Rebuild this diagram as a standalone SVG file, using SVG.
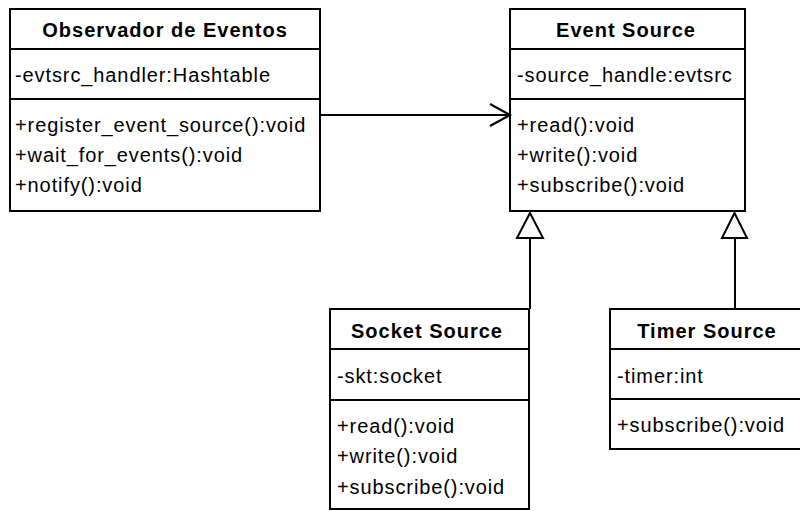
<svg xmlns="http://www.w3.org/2000/svg" width="800" height="511" viewBox="0 0 800 511">
  <style>
    .box { fill: #ffffff; stroke: #000000; stroke-width: 2; }
    .sep { stroke: #000000; stroke-width: 2; }
    .edge { fill: none; stroke: #000000; stroke-width: 2; }
    .head { fill: #ffffff; stroke: #000000; stroke-width: 2; stroke-linejoin: miter; }
    .title { font-family: "Liberation Sans", Arial, sans-serif; font-size: 20px; font-weight: bold; letter-spacing: 1px; text-anchor: middle; fill: #000000; }
    .member { font-family: "Liberation Sans", Arial, sans-serif; font-size: 20px; letter-spacing: 0.9px; fill: #000000; }
  </style>

  <!-- Class: Observador de Eventos -->
  <g id="observador-de-eventos">
    <rect class="box" x="10" y="9" width="310" height="202"/>
    <line class="sep" x1="10" y1="49" x2="320" y2="49"/>
    <line class="sep" x1="10" y1="99" x2="320" y2="99"/>
    <text class="title" x="165" y="37">Observador de Eventos</text>
    <text class="member" x="15" y="82">-evtsrc_handler:Hashtable</text>
    <text class="member" x="15" y="132">+register_event_source():void</text>
    <text class="member" x="15" y="162">+wait_for_events():void</text>
    <text class="member" x="15" y="192">+notify():void</text>
  </g>

  <!-- Class: Event Source -->
  <g id="event-source">
    <rect class="box" x="510" y="9" width="235" height="202"/>
    <line class="sep" x1="510" y1="49" x2="745" y2="49"/>
    <line class="sep" x1="510" y1="99" x2="745" y2="99"/>
    <text class="title" x="626" y="37">Event Source</text>
    <text class="member" x="517" y="82">-source_handle:evtsrc</text>
    <text class="member" x="517" y="132">+read():void</text>
    <text class="member" x="517" y="162">+write():void</text>
    <text class="member" x="517" y="192">+subscribe():void</text>
  </g>

  <!-- Class: Socket Source -->
  <g id="socket-source">
    <rect class="box" x="330" y="309" width="199" height="200"/>
    <line class="sep" x1="330" y1="349" x2="529" y2="349"/>
    <line class="sep" x1="330" y1="400" x2="529" y2="400"/>
    <text class="title" x="427" y="338">Socket Source</text>
    <text class="member" x="337" y="383">-skt:socket</text>
    <text class="member" x="337" y="433">+read():void</text>
    <text class="member" x="337" y="463">+write():void</text>
    <text class="member" x="337" y="494">+subscribe():void</text>
  </g>

  <!-- Class: Timer Source -->
  <g id="timer-source">
    <rect class="box" x="610" y="309" width="195" height="140"/>
    <line class="sep" x1="610" y1="349" x2="805" y2="349"/>
    <line class="sep" x1="610" y1="399" x2="805" y2="399"/>
    <text class="title" x="707" y="338">Timer Source</text>
    <text class="member" x="617" y="383">-timer:int</text>
    <text class="member" x="617" y="432">+subscribe():void</text>
  </g>

  <!-- Connectors -->
  <g id="connectors">
    <!-- association: Observador de Eventos -> Event Source -->
    <line class="edge" x1="320" y1="115" x2="510" y2="115"/>
    <polyline class="edge" points="490,104 510,115 490,126"/>

    <!-- generalization: Socket Source -> Event Source -->
    <line class="edge" x1="530" y1="238" x2="530" y2="309"/>
    <polygon class="head" points="530,213 543,238 517,238"/>

    <!-- generalization: Timer Source -> Event Source -->
    <line class="edge" x1="735" y1="238" x2="735" y2="309"/>
    <polygon class="head" points="734.5,213 747,238 722,238"/>
  </g>
</svg>
